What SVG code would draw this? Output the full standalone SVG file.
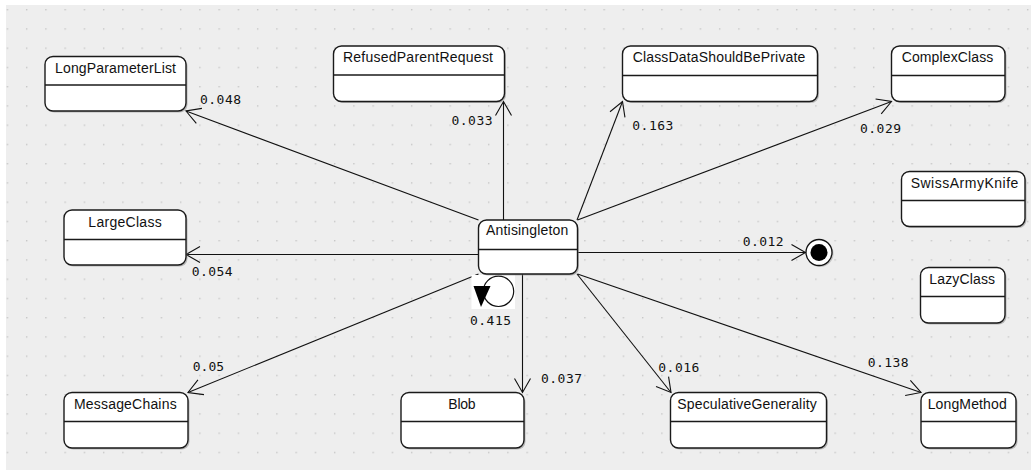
<svg xmlns="http://www.w3.org/2000/svg" width="1031" height="470" viewBox="0 0 1031 470">
<style>
.box{fill:#ffffff;stroke:#1a1a1a;stroke-width:1.4}
.shadow{fill:#8a8a8a;opacity:0.55}
.div{stroke:#1a1a1a;stroke-width:1.4}
.name{font-family:"Liberation Sans",Arial,sans-serif;font-size:14px;fill:#111;text-anchor:middle}
.lbl{font-family:"DejaVu Sans Mono","Liberation Mono",monospace;font-size:13px;fill:#111}
.edge{stroke:#111;stroke-width:1.1;fill:none}
</style>
<defs>
<pattern id="grid" x="6.7" y="9" width="19.25" height="19.25" patternUnits="userSpaceOnUse">
<rect x="0" y="0" width="1.4" height="1.4" fill="#c6c6c6"/>
</pattern>
<marker id="open" markerUnits="userSpaceOnUse" markerWidth="20" markerHeight="20" viewBox="-16 -10 18 20" refX="0" refY="0" orient="auto">
<path d="M-14,-8 L0,0 L-14,8" fill="none" stroke="#111" stroke-width="1.1"/>
</marker>
</defs>
<rect x="0" y="0" width="1031" height="470" fill="#ffffff"/>
<rect x="6" y="5" width="1025" height="465" fill="#eeeeee"/>
<rect x="6" y="5" width="1025" height="465" fill="url(#grid)"/>

<g id="connectors">
<line class="edge" x1="478.5" y1="220" x2="186" y2="111" marker-end="url(#open)"/>
<line class="edge" x1="503.5" y1="220" x2="503.5" y2="101.5" marker-end="url(#open)"/>
<line class="edge" x1="577" y1="220" x2="622.5" y2="101.5" marker-end="url(#open)"/>
<line class="edge" x1="577.5" y1="220" x2="891.5" y2="101.5" marker-end="url(#open)"/>
<line class="edge" x1="478.5" y1="254.5" x2="186" y2="254.5" marker-end="url(#open)"/>
<line class="edge" x1="577.5" y1="252.5" x2="805.5" y2="252.5" marker-end="url(#open)"/>
<line class="edge" x1="478.5" y1="274" x2="188" y2="392.5" marker-end="url(#open)"/>
<line class="edge" x1="522.5" y1="274" x2="522.5" y2="392.5" marker-end="url(#open)"/>
<line class="edge" x1="577" y1="274" x2="671" y2="392.5" marker-end="url(#open)"/>
<line class="edge" x1="577.5" y1="274" x2="921" y2="392.5" marker-end="url(#open)"/>
<g id="selfloop">
<rect x="471.5" y="275" width="43.5" height="34" fill="#ffffff"/>
<circle cx="498.5" cy="291.3" r="15.2" fill="none" stroke="#111" stroke-width="1.2"/>
<polygon points="473.5,286 490.5,286 481,307" fill="#000"/>
</g>
<g id="labels">
<text class="lbl" x="200" y="104" textLength="41" lengthAdjust="spacing">0.048</text>
<text class="lbl" x="451.5" y="125" textLength="41" lengthAdjust="spacing">0.033</text>
<text class="lbl" x="632.3" y="130" textLength="41" lengthAdjust="spacing">0.163</text>
<text class="lbl" x="860" y="133" textLength="41" lengthAdjust="spacing">0.029</text>
<text class="lbl" x="191.7" y="276" textLength="41" lengthAdjust="spacing">0.054</text>
<text class="lbl" x="742.7" y="246" textLength="41" lengthAdjust="spacing">0.012</text>
<text class="lbl" x="470" y="324.5" textLength="41" lengthAdjust="spacing">0.415</text>
<text class="lbl" x="192.7" y="371" textLength="31.5" lengthAdjust="spacing">0.05</text>
<text class="lbl" x="541" y="383" textLength="41" lengthAdjust="spacing">0.037</text>
<text class="lbl" x="658.3" y="372" textLength="41" lengthAdjust="spacing">0.016</text>
<text class="lbl" x="867.7" y="367" textLength="41" lengthAdjust="spacing">0.138</text>
</g>
</g>

<g id="LongParameterList">
<rect class="shadow" x="46.5" y="58" width="141" height="54.5" rx="8"/>
<rect class="box" x="45" y="56.5" width="141" height="54.5" rx="8"/>
<line class="div" x1="45" y1="85" x2="186" y2="85"/>
<text class="name" x="115.5" y="72.5" textLength="121" lengthAdjust="spacing">LongParameterList</text>
</g>
<g id="RefusedParentRequest">
<rect class="shadow" x="335" y="47.5" width="171" height="55.5" rx="8"/>
<rect class="box" x="333.5" y="46" width="171" height="55.5" rx="8"/>
<line class="div" x1="333.5" y1="75" x2="504.5" y2="75"/>
<text class="name" x="418" y="62" textLength="150" lengthAdjust="spacing">RefusedParentRequest</text>
</g>
<g id="ClassDataShouldBePrivate">
<rect class="shadow" x="624" y="47.5" width="195" height="55.5" rx="8"/>
<rect class="box" x="622.5" y="46" width="195" height="55.5" rx="8"/>
<line class="div" x1="622.5" y1="75.5" x2="817.5" y2="75.5"/>
<text class="name" x="719" y="62" textLength="172.7" lengthAdjust="spacing">ClassDataShouldBePrivate</text>
</g>
<g id="ComplexClass">
<rect class="shadow" x="893" y="47.5" width="113.5" height="55.5" rx="8"/>
<rect class="box" x="891.5" y="46" width="113.5" height="55.5" rx="8"/>
<line class="div" x1="891.5" y1="75.5" x2="1005" y2="75.5"/>
<text class="name" x="947.5" y="62" textLength="91.7" lengthAdjust="spacing">ComplexClass</text>
</g>
<g id="SwissArmyKnife">
<rect class="shadow" x="903" y="173" width="123.5" height="55" rx="8"/>
<rect class="box" x="901.5" y="171.5" width="123.5" height="55" rx="8"/>
<line class="div" x1="901.5" y1="200.5" x2="1025" y2="200.5"/>
<text class="name" x="964.5" y="187.5" textLength="107.7" lengthAdjust="spacing">SwissArmyKnife</text>
</g>
<g id="LazyClass">
<rect class="shadow" x="922" y="269" width="84.5" height="55.5" rx="8"/>
<rect class="box" x="920.5" y="267.5" width="84.5" height="55.5" rx="8"/>
<line class="div" x1="920.5" y1="296.5" x2="1005" y2="296.5"/>
<text class="name" x="962.2" y="283.5" textLength="65.7" lengthAdjust="spacing">LazyClass</text>
</g>
<g id="LargeClass">
<rect class="shadow" x="65.5" y="211.5" width="122" height="55" rx="8"/>
<rect class="box" x="64" y="210" width="122" height="55" rx="8"/>
<line class="div" x1="64" y1="239.5" x2="186" y2="239.5"/>
<text class="name" x="125" y="226.5" textLength="73.3" lengthAdjust="spacing">LargeClass</text>
</g>
<g id="Antisingleton">
<rect class="shadow" x="480" y="221.5" width="99" height="54" rx="8"/>
<rect class="box" x="478.5" y="220" width="99" height="54" rx="8"/>
<line class="div" x1="478.5" y1="249.5" x2="577.5" y2="249.5"/>
<text class="name" x="527.2" y="235" textLength="82.3" lengthAdjust="spacing">Antisingleton</text>
</g>
<g id="MessageChains">
<rect class="shadow" x="65.5" y="394" width="124" height="55.5" rx="8"/>
<rect class="box" x="64" y="392.5" width="124" height="55.5" rx="8"/>
<line class="div" x1="64" y1="421.5" x2="188" y2="421.5"/>
<text class="name" x="125.3" y="408.5" textLength="102.7" lengthAdjust="spacing">MessageChains</text>
</g>
<g id="Blob">
<rect class="shadow" x="402.5" y="394" width="123" height="55.5" rx="8"/>
<rect class="box" x="401" y="392.5" width="123" height="55.5" rx="8"/>
<line class="div" x1="401" y1="421.5" x2="524" y2="421.5"/>
<text class="name" x="462" y="408.5" textLength="27.3" lengthAdjust="spacing">Blob</text>
</g>
<g id="SpeculativeGenerality">
<rect class="shadow" x="672" y="394" width="156" height="55.5" rx="8"/>
<rect class="box" x="670.5" y="392.5" width="156" height="55.5" rx="8"/>
<line class="div" x1="670.5" y1="421.5" x2="826.5" y2="421.5"/>
<text class="name" x="747" y="408.5" textLength="139.4" lengthAdjust="spacing">SpeculativeGenerality</text>
</g>
<g id="LongMethod">
<rect class="shadow" x="922.5" y="394" width="95" height="55.5" rx="8"/>
<rect class="box" x="921" y="392.5" width="95" height="55.5" rx="8"/>
<line class="div" x1="921" y1="421.5" x2="1016" y2="421.5"/>
<text class="name" x="967.2" y="408.5" textLength="79" lengthAdjust="spacing">LongMethod</text>
</g>
<g id="final">
<circle cx="820" cy="253.5" r="13.5" fill="#9a9a9a" opacity="0.5"/>
<circle cx="819" cy="252.5" r="13" fill="#ffffff" stroke="#111" stroke-width="1.3"/>
<circle cx="819" cy="252.5" r="8.5" fill="#000"/>
</g>
</svg>
